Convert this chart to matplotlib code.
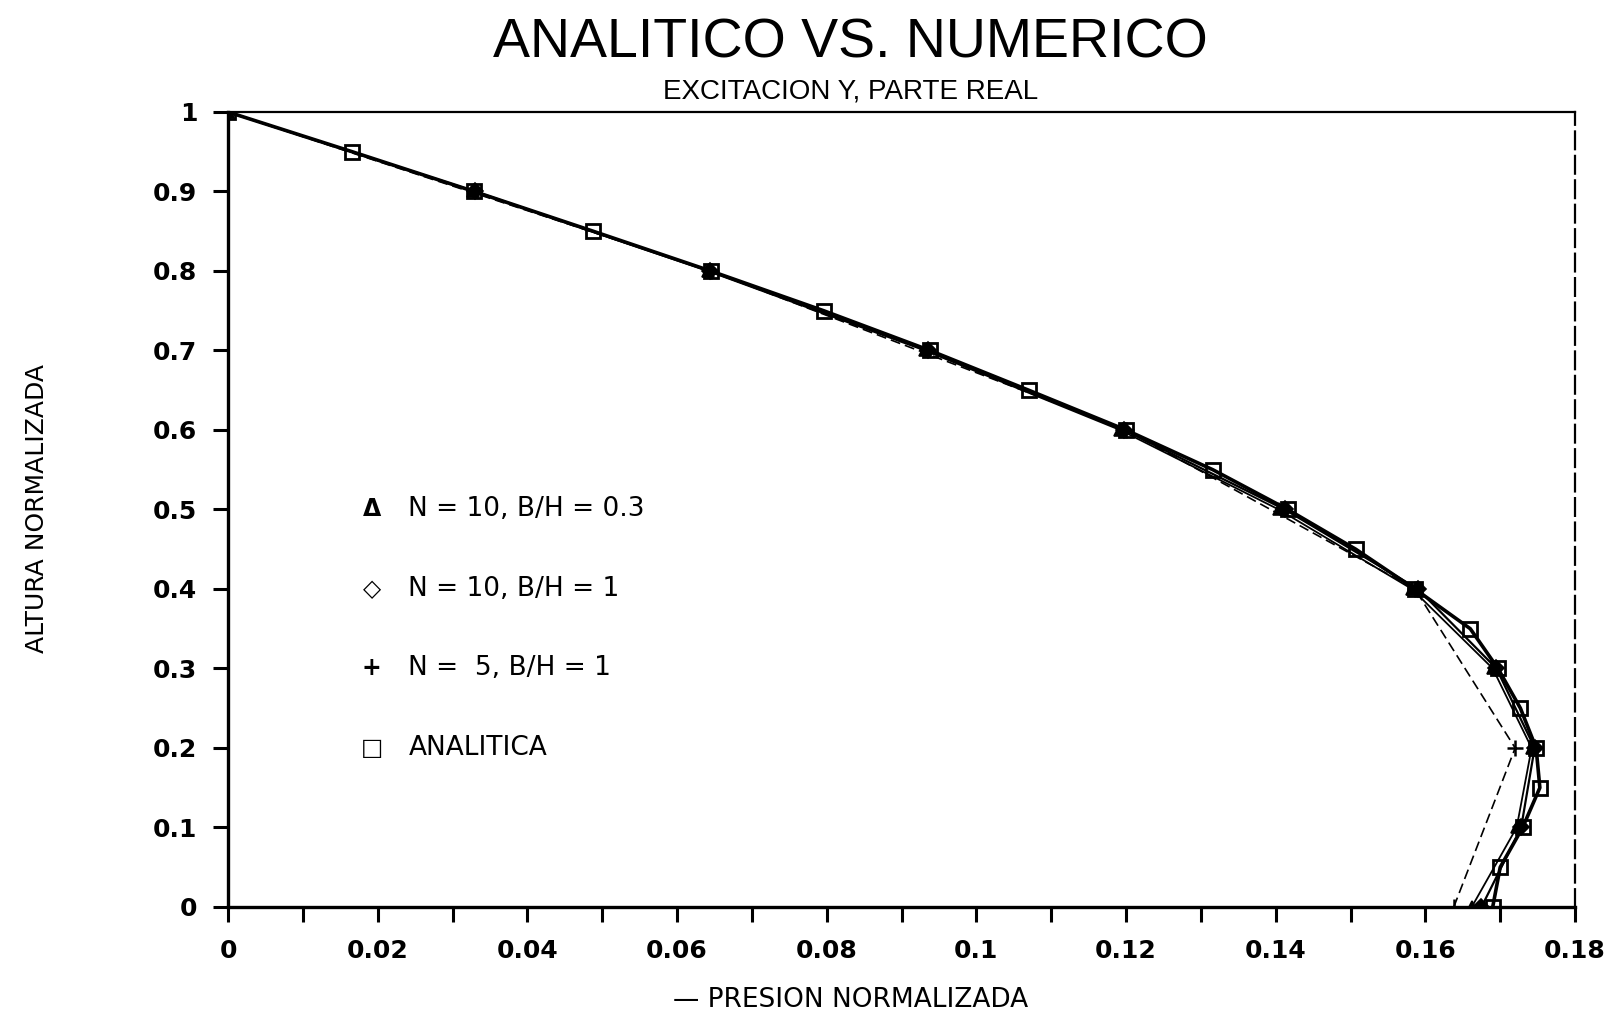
import matplotlib
matplotlib.use("Agg")
import matplotlib.pyplot as plt
from matplotlib.ticker import MultipleLocator, FormatStrFormatter

# analitica, y cada 0.05
y_anal = [0.0, 0.05, 0.10, 0.15, 0.20, 0.25, 0.30, 0.35, 0.40, 0.45, 0.50,
          0.55, 0.60, 0.65, 0.70, 0.75, 0.80, 0.85, 0.90, 0.95, 1.0]
x_anal = [0.1690, 0.1700, 0.1730, 0.1753, 0.1748, 0.1727, 0.1697, 0.1660, 0.1586, 0.1507, 0.1416,
          0.1316, 0.1200, 0.1070, 0.0938, 0.0796, 0.0645, 0.0488, 0.0329, 0.0166, 0.0]

# N = 10, y cada 0.1
y_n10 = [0.0, 0.1, 0.2, 0.3, 0.4, 0.5, 0.6, 0.7, 0.8, 0.9, 1.0]
x_n10_b1 = [0.1675, 0.1728, 0.1746, 0.1695, 0.1590, 0.1412, 0.1197, 0.0936, 0.0644, 0.0330, 0.0]
x_n10_b03 = [0.1662, 0.1722, 0.1742, 0.1690, 0.1582, 0.1404, 0.1192, 0.0931, 0.0641, 0.0328, 0.0]

# N = 5
y_n5 = [0.0, 0.2, 0.4, 0.6, 0.8, 1.0]
x_n5 = [0.1638, 0.1720, 0.1586, 0.1200, 0.0645, 0.0]

legend_labels = ["N = 10, B/H = 0.3", "N = 10, B/H = 1", "N =  5, B/H = 1", "ANALITICA"]
legend_symbols = ["\u0394", "\u25c7", "+", "\u25a1"]

fig = plt.figure(figsize=(16.08, 10.35), dpi=100)
ax = fig.add_axes([0.1418, 0.1237, 0.8377, 0.7681])

ax.plot(x_n5, y_n5, color="black", lw=1.2, ls=(0, (6, 3)), marker="+", ms=12, mew=1.8)
ax.plot(x_n10_b03, y_n10, color="black", lw=1.3, marker="^", ms=9, mfc="black", mew=1.2)
ax.plot(x_n10_b1, y_n10, color="black", lw=1.6, marker="D", ms=8, mfc="black", mew=1.2)
ax.plot(x_anal, y_anal, color="black", lw=2.6, marker="s", ms=10, mfc="none", mew=2.0)

ax.set_xlim(0, 0.18)
ax.set_ylim(0, 1)
ax.xaxis.set_major_locator(MultipleLocator(0.02))
ax.xaxis.set_minor_locator(MultipleLocator(0.01))
ax.yaxis.set_major_locator(MultipleLocator(0.1))
ax.xaxis.set_major_formatter(FormatStrFormatter("%g"))
ax.yaxis.set_major_formatter(FormatStrFormatter("%g"))
ax.tick_params(axis="both", which="both", direction="out", length=11, width=2.2,
               labelsize=18, colors="black")
ax.tick_params(axis="x", pad=12)
ax.tick_params(axis="y", pad=11)
for lab in ax.get_xticklabels() + ax.get_yticklabels():
    lab.set_fontweight("bold")
    lab.set_family("DejaVu Sans")

ax.spines["left"].set_linewidth(2.4)
ax.spines["bottom"].set_linewidth(2.4)
ax.spines["top"].set_linewidth(1.6)
ax.spines["right"].set_linewidth(1.6)
ax.spines["right"].set_linestyle((0, (8, 3)))

# leyenda como texto
for i, (sym, lab) in enumerate(zip(legend_symbols, legend_labels)):
    yy = 0.5 - 0.1 * i
    ax.text(0.0192, yy, sym, ha="center", va="center", fontsize=17, family="DejaVu Sans",
            fontweight="bold")
    ax.text(0.0241, yy, lab, ha="left", va="center", fontsize=19, family="DejaVu Sans")

fig.text(0.529, 0.958, "ANALITICO VS. NUMERICO", ha="center", va="center",
         fontsize=40, family="Liberation Sans", fontweight="light")
fig.text(0.529, 0.912, "EXCITACION Y, PARTE REAL", ha="center", va="center",
         fontsize=20, family="Liberation Sans")
fig.text(0.529, 0.034, "\u2014 PRESION NORMALIZADA", ha="center", va="center",
         fontsize=19, family="DejaVu Sans")
fig.text(0.023, 0.509, "ALTURA NORMALIZADA", ha="center", va="center", rotation=90,
         fontsize=18, family="DejaVu Sans")

fig.savefig("out.png", dpi=100, facecolor="white")
